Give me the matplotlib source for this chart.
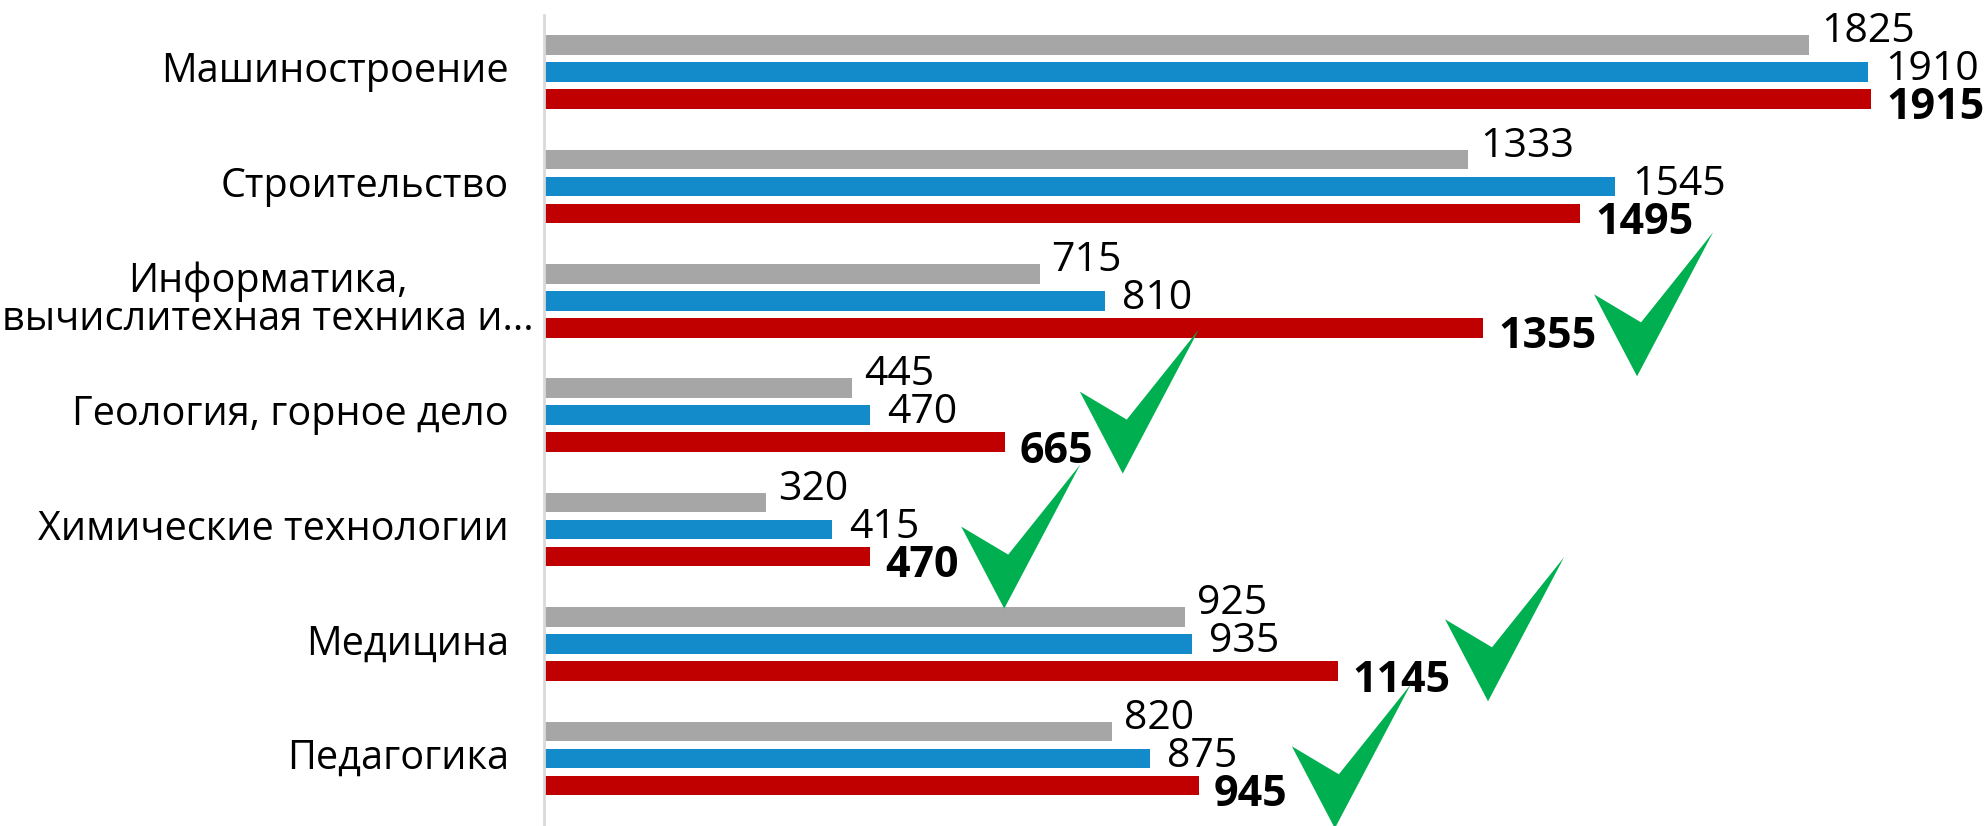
import matplotlib
matplotlib.use("Agg")
import matplotlib.pyplot as plt
import matplotlib.transforms as mtransforms
from matplotlib.patches import Polygon
import numpy as np

# data
categories = [
    "Машиностроение",
    "Строительство",
    "Информатика,\nвычислитехная техника и...",
    "Геология, горное дело",
    "Химические технологии",
    "Медицина",
    "Педагогика",
]
gray_vals = [1825, 1333, 715, 445, 320, 925, 820]
blue_vals = [1910, 1545, 810, 470, 415, 935, 875]
red_vals = [1915, 1495, 1355, 665, 470, 1145, 945]

# green check marks: (value, category position) of the lower tip
check_marks = [(1577, 2.66), (835, 3.51), (664, 4.69), (1362, 5.50), (1141, 6.61)]

GRAY = "#A6A6A6"
BLUE = "#138BCB"
RED = "#C00000"
GREEN = "#00B050"

plt.rcParams["font.family"] = ["Open Sans", "DejaVu Sans"]

fig = plt.figure(figsize=(19.85, 8.26), dpi=100)
ax = fig.add_axes([544 / 1985, 0, 1441 / 1985, 811 / 826])

y = np.arange(len(categories))
bh = 0.172
step = 0.236
ax.barh(y - step, gray_vals, height=bh, color=GRAY)
ax.barh(y, blue_vals, height=bh, color=BLUE)
ax.barh(y + step, red_vals, height=bh, color=RED)

ax.set_xlim(0, 2079)
ax.set_ylim(6.59, -0.498)

for i in range(len(categories)):
    ax.annotate(str(gray_vals[i]), (gray_vals[i], y[i] - step), xytext=(12, 13),
                textcoords="offset pixels", va="center", ha="left", fontsize=29.5,
                color="black", annotation_clip=False)
    ax.annotate(str(blue_vals[i]), (blue_vals[i], y[i]), xytext=(17, 2),
                textcoords="offset pixels", va="center", ha="left", fontsize=29.5,
                color="black", annotation_clip=False)
    ax.annotate(str(red_vals[i]), (red_vals[i], y[i] + step), xytext=(15, -9),
                textcoords="offset pixels", va="center", ha="left", fontsize=31,
                fontweight="bold", color="black", annotation_clip=False)

# category labels, right aligned left of the axis line
for i, cat in enumerate(categories):
    pad = 10 if "\n" in cat else 35
    tr = ax.get_yaxis_transform() + mtransforms.Affine2D().translate(-pad, 0)
    ax.text(0, y[i], cat, transform=tr, ha="right", va="center",
            multialignment="center", fontsize=28.5, linespacing=0.93, color="black")

# check marks
shape = [(0, 0), (-43, 82), (4, 54), (76, 144)]
for cx, cy in check_marks:
    tr = mtransforms.Affine2D() + mtransforms.ScaledTranslation(cx, cy, ax.transData)
    ax.add_patch(Polygon(shape, closed=True, facecolor=GREEN, edgecolor="none",
                         transform=tr, clip_on=False, zorder=5))

ax.set_xticks([])
ax.set_yticks([])
for s in ["top", "right", "bottom"]:
    ax.spines[s].set_visible(False)
ax.spines["left"].set_color("#D9D9D9")
ax.spines["left"].set_linewidth(2)

fig.savefig("out.png", dpi=100)
